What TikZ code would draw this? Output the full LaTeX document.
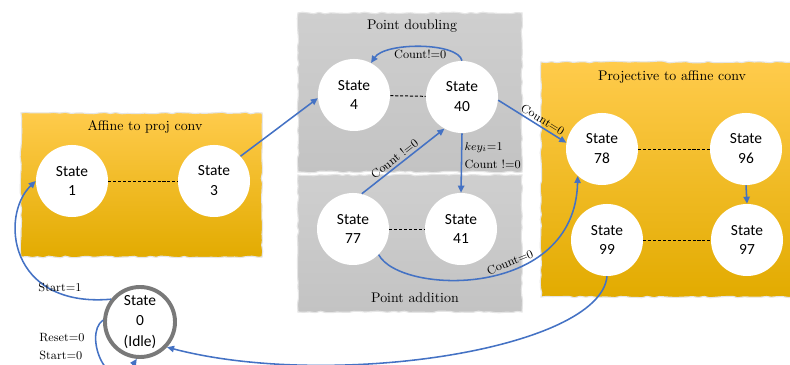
\documentclass[tikz,border=0pt]{standalone}
\usepackage{fontspec}
\newfontfamily\statefont{Carlito}
\usetikzlibrary{arrows.meta,decorations.pathmorphing}
\definecolor{boxTop}{HTML}{FFCB4C}
\definecolor{boxMid}{HTML}{FFC000}
\definecolor{boxBot}{HTML}{E2AB00}
\definecolor{grayTop}{HTML}{CFCFCF}
\definecolor{grayBot}{HTML}{C3C3C3}
\definecolor{linkBlue}{HTML}{4472C4}
\begin{document}
\begin{tikzpicture}[x=0.025cm, y=-0.025cm,
    state/.style={circle, fill=white, minimum size=1.8cm, inner sep=0pt, align=center,
      font=\statefont\fontsize{11}{14.2}\selectfont},
    idle/.style={state, draw=gray!95!black, line width=2.8pt, minimum size=1.75cm,
      font=\statefont\fontsize{11}{14.5}\selectfont},
    tornbox/.style={draw=gray!20, line width=0.8pt, decorate,
      decoration={random steps, segment length=4pt, amplitude=0.6pt}},
    orangebox/.style={tornbox, top color=boxTop, middle color=boxMid, bottom color=boxBot},
    graybox/.style={tornbox, top color=grayTop, bottom color=grayBot},
    title/.style={font=\fontsize{9.9}{11}\selectfont},
    cond/.style={font=\fontsize{8.5}{12.8}\selectfont, inner sep=1.5pt},
    pair/.style={dashed, dash pattern=on 2.2pt off 1.3pt, line width=0.7pt},
    trans/.style={draw=linkBlue, line width=1.1pt, -{Triangle[length=5pt,width=4.5pt]}}]
      \useasboundingbox (0,0) rectangle (790,365);

      % Regions
      \path[orangebox] (21,113) rectangle (262,257);
      \path[graybox] (298,13) rectangle (522,172);
      \path[graybox] (298,175) rectangle (522,312);
      \path[orangebox] (541,62) rectangle (793,297);
      \node[title] (tAff) at (145,127) {Affine to proj conv};
      \node[title] (tDbl) at (412,26) {Point doubling};
      \node[title] (tAdd) at (415,298) {Point addition};
      \node[title] (tPrj) at (672,77) {Projective to affine conv};

      % States
      \node[state] (s1) at (72,181) {State\\1};
      \node[state] (s3) at (214,181) {State\\3};
      \node[state] (s4) at (354,95) {State\\4};
      \node[state] (s40) at (462,97) {State\\40};
      \node[state] (s77) at (353,229) {State\\77};
      \node[state] (s41) at (461,229) {State\\41};
      \node[state] (s78) at (602,149) {State\\78};
      \node[state] (s96) at (746,149) {State\\96};
      \node[state] (s99) at (607,240) {State\\99};
      \node[state] (s97) at (747,240) {State\\97};
      \node[idle] (s0) at (140,322) {State\\0\\(Idle)};

      % Pairs
      \draw[pair] (s1) -- (s3);
      \draw[pair] (s4) -- (s40);
      \draw[pair] (s77) -- (s41);
      \draw[pair] (s78) -- (s96);
      \draw[pair] (s99) -- (s97);

      % Transitions
      \draw[trans] (s0.142) .. controls (8,308) and (0,215) .. (s1.west);
      \node[cond] (cStart) at (60,287) {Start=1};
      \draw[trans] (s0.177) .. controls (82,335) and (110,400) .. (s0.265);
      \node[cond, align=left] (cReset) at (62,347) {Reset=0\\Start=0};
      \draw[trans] (s3.43) -- (s4.185);
      \draw[trans] (s40.north) .. controls (458,42) and (385,42) .. node[cond, below, pos=0.5] (cLoop) {Count!=0} (s4.62);
      \draw[trans] (s40.south) -- node[cond, right, pos=0.37, align=left] (cKey) {$key_i$=1\\Count !=0} (s41.north);
      \draw[trans] (s77.76) -- node[cond, above, sloped, pos=0.45] (cBack) {Count !=0} (s40.241);
      \draw[trans] (s40.-5) -- node[cond, above, sloped, pos=0.6] (cDone) {Count=0} (s78.170);
      \draw[trans] (s77.-45) .. controls (400,295) and (575,300) .. node[cond, above, sloped, pos=0.6] (cFin) {Count=0} (s78.228);
      \draw[trans] (s96.south) -- (s97.north);
      \draw[trans] (s99.south) .. controls (600,350) and (330,390) .. (s0.-43);
    \end{tikzpicture}
\end{document}
